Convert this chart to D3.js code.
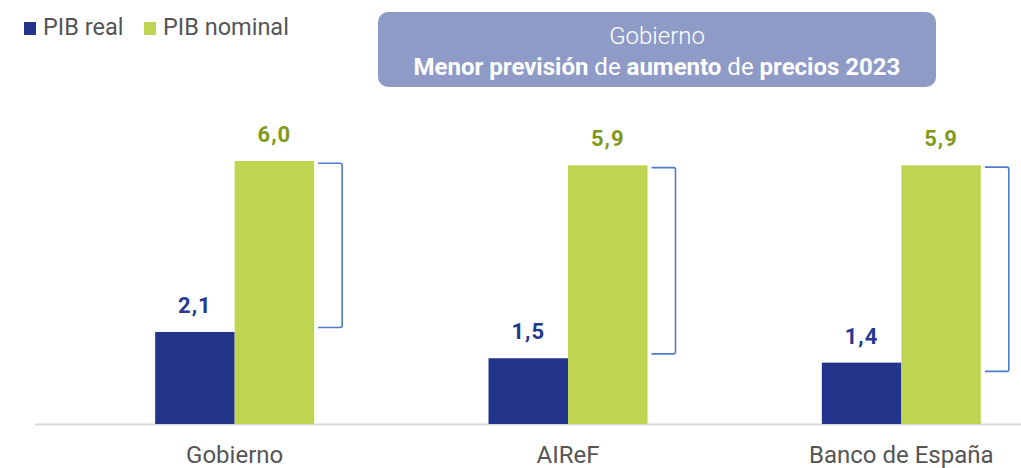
<!DOCTYPE html>
<html>
<head>
<meta charset="utf-8">
<script src="https://cdn.jsdelivr.net/npm/d3@7"></script>
<style>
  body { margin: 0; background: #fff; }
  svg { display: block; font-family: Roboto, "Noto Sans", sans-serif; }
</style>
</head>
<body>
<div id="chart"></div>
<script>
// data
const categories = ['Gobierno', 'AIReF', 'Banco de España']
const series = ['PIB real', 'PIB nominal']
const pibReal = [2.1, 1.5, 1.4]
const pibNominal = [6.0, 5.9, 5.9]
// bracket ends, in chart units (top, bottom)
const bracketTop = [5.95, 5.85, 5.86]
const bracketBottom = [2.2, 1.6, 1.2]

const width = 1021
const height = 468
const colors = ['#22358b', '#bfd450']
const labelColors = ['#253a8f', '#7f9a1a']

const svg = d3.select('#chart').append('svg')
  .attr('width', width)
  .attr('height', height)

const baseline = 424
const x = d3.scaleBand().domain(categories).range([68, 1068]).paddingInner(0).paddingOuter(0)
const y = d3.scaleLinear().domain([0, 6]).range([baseline, 161])
const inner = d3.scaleBand().domain(series).range([0, 159])

// axis line
svg.append('line')
  .attr('x1', 35).attr('x2', width)
  .attr('y1', baseline + 0.5).attr('y2', baseline + 0.5)
  .attr('stroke', '#d9d9d9').attr('stroke-width', 2)

const rows = categories.map((c, i) => ({ cat: c, vals: [pibReal[i], pibNominal[i]], i }))
const groupX = (d) => x(d.cat) + (x.bandwidth() - 159) / 2

const g = svg.selectAll('.grp').data(rows).enter().append('g')
  .attr('class', 'grp')
  .attr('transform', (d) => `translate(${groupX(d)},0)`)

g.selectAll('rect').data((d) => d.vals.map((v, k) => ({ v, k }))).enter().append('rect')
  .attr('x', (d) => inner(series[d.k]))
  .attr('width', inner.bandwidth())
  .attr('y', (d) => y(d.v))
  .attr('height', (d) => baseline - y(d.v))
  .attr('fill', (d) => colors[d.k])

g.selectAll('.val').data((d) => d.vals.map((v, k) => ({ v, k }))).enter().append('text')
  .attr('class', 'val')
  .attr('x', (d) => inner(series[d.k]) + inner.bandwidth() / 2)
  .attr('y', (d) => y(d.v) - 19)
  .attr('text-anchor', 'middle')
  .attr('font-size', 22)
  .attr('letter-spacing', 1)
  .attr('font-weight', 'bold')
  .attr('fill', (d) => labelColors[d.k])
  .text((d) => d3.format('.1f')(d.v).replace('.', ','))

// brackets
g.append('path')
  .attr('d', (d) => {
    const x0 = 163, x1 = 187
    const t = y(bracketTop[d.i]), b = y(bracketBottom[d.i])
    return `M${x0},${t} L${x1 - 2},${t} Q${x1},${t} ${x1},${t + 2} L${x1},${b - 2} Q${x1},${b} ${x1 - 2},${b} L${x0},${b}`
  })
  .attr('fill', 'none')
  .attr('stroke', '#4f7cc8')
  .attr('stroke-width', 1.6)

// category labels
svg.selectAll('.cat').data(categories).enter().append('text')
  .attr('class', 'cat')
  .attr('x', (d) => x(d) + x.bandwidth() / 2)
  .attr('y', 463)
  .attr('text-anchor', 'middle')
  .attr('font-size', 24)
  .attr('fill', '#555')
  .text((d) => d)

// legend
const legend = svg.append('g')
const legendX = [24, 144]
series.forEach((s, k) => {
  legend.append('rect')
    .attr('x', legendX[k]).attr('y', 22)
    .attr('width', 12).attr('height', 13)
    .attr('fill', colors[k])
  legend.append('text')
    .attr('x', legendX[k] + 19).attr('y', 35)
    .attr('font-size', 23.5)
    .attr('fill', '#555')
    .text(s)
})

// title box
svg.append('rect')
  .attr('x', 378).attr('y', 12)
  .attr('width', 558).attr('height', 75)
  .attr('rx', 10)
  .attr('fill', '#8f9bc7')

svg.append('text')
  .attr('x', 657).attr('y', 44)
  .attr('text-anchor', 'middle')
  .attr('font-size', 24)
  .attr('font-weight', 300)
  .attr('fill', '#fff')
  .text('Gobierno')

const sub = svg.append('text')
  .attr('x', 657).attr('y', 75)
  .attr('text-anchor', 'middle')
  .attr('font-size', 24)
  .attr('fill', '#fff')
const parts = [['Menor previsión', true], [' de ', false], ['aumento', true], [' de ', false], ['precios 2023', true]]
parts.forEach(([t, b]) => {
  sub.append('tspan').attr('font-weight', b ? 'bold' : 'normal').text(t)
})
</script>
</body>
</html>
